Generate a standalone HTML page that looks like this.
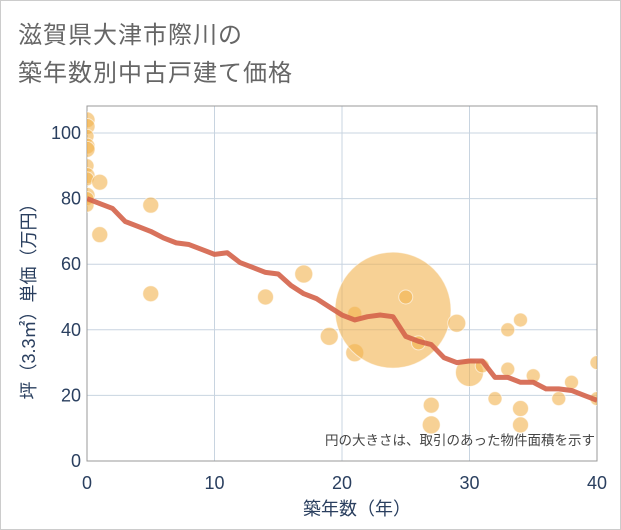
<!DOCTYPE html>
<html><head><meta charset="utf-8"><style>
body{margin:0;background:#fff}
#wrap{position:relative;width:619px;height:528px;border:1px solid #ccc;background:#fff;font-family:"Liberation Sans","Noto Sans CJK JP",sans-serif}
.title{position:absolute;left:17px;font-size:24px;color:#666;letter-spacing:1px}
</style></head><body>
<div id="wrap">
<div class="title" style="top:14px">滋賀県大津市際川の</div>
<div class="title" style="top:52px">築年数別中古戸建て価格</div>
<svg id="chart" width="619" height="528" style="position:absolute;left:0;top:0"></svg>
</div>
<script>
const lineYears=[0,1,2,3,4,5,6,7,8,9,10,11,12,13,14,15,16,17,18,19,20,21,22,23,24,25,26,27,28,29,30,31,32,33,34,35,36,37,38,39,40];
const lineValues=[80,78.5,77,73,71.5,70,68,66.5,66,64.5,63,63.5,60.5,59,57.5,57,53.5,51,49.5,47,44.5,43,44,44.5,44,38,36.5,35.5,31.5,30,30.5,30.5,25.5,25.5,24,24,22,22,21.5,20,18.5];
const bubbleYears=[0,0,0,0,0,0,0,0,0,0,0,1,1,5,5,14,17,19,21,21,24,25,26,27,27,29,30,31,32,33,33,34,34,34,35,37,38,40,40];
const bubbleValues=[104,102,99,96,95,90,87,86,81,80,78,85,69,78,51,50,57,38,45,33,46,50,36,17,11,42,27,29,19,40,28,43,16,11,26,19,24,30,19];
const bubbleSizes=[8,8,7,8,8,7,8,7,8,7,7,8,8,8,8,8,9,9,7,9,58,7,7,8,9,9,14,7,7,7,7,7,8,8,7,7,7,7,7];
const xTicks=[0,10,20,30,40];
const yTicks=[0,20,40,60,80,100];
const L=86,R=596,T=105,B=460;
const xs=v=>L+(v/40)*(R-L);
const ys=v=>B-(v/100)*328;
const svg=document.getElementById('chart');
const NS='http://www.w3.org/2000/svg';
function mk(t,a){const e=document.createElementNS(NS,t);for(const k in a)e.setAttribute(k,a[k]);svg.appendChild(e);return e;}
xTicks.forEach(t=>{
 const g=mk('line',{x1:xs(t),x2:xs(t),y1:T,y2:B,stroke:'#c8d4e0','stroke-width':1});
 
 
 const tx=mk('text',{x:xs(t),y:488,'text-anchor':'middle','font-size':18,fill:'#2a3f5f'});
 tx.textContent=t;
 
 
});
yTicks.forEach(t=>{
 const g=mk('line',{x1:L,x2:R,y1:ys(t),y2:ys(t),stroke:'#c8d4e0','stroke-width':1});
 
 
 const tx=mk('text',{x:80,y:ys(t)+6,'text-anchor':'end','font-size':18,fill:'#2a3f5f'});
 tx.textContent=t;
 
 
});
const fr=mk('rect',{x:L,y:T,width:R-L,height:B-T,fill:'none',stroke:'#999','stroke-width':1});


const cg=document.createElementNS(NS,'g');cg.setAttribute('clip-path','url(#clp)');svg.appendChild(cg);
const cp=mk('clipPath',{id:'clp'});const cr=document.createElementNS(NS,'rect');
cr.setAttribute('x',L);cr.setAttribute('y',T);cr.setAttribute('width',R-L);cr.setAttribute('height',B-T);cp.appendChild(cr);
bubbleYears.forEach((y,i)=>{
 const c=document.createElementNS(NS,'circle');
 c.setAttribute('cx',xs(y));c.setAttribute('cy',ys(bubbleValues[i]));c.setAttribute('r',bubbleSizes[i]);
 c.setAttribute('fill','#f2b24f');c.setAttribute('fill-opacity','0.6');c.setAttribute('stroke','#fff');c.setAttribute('stroke-opacity','0.6');
 
 
 cg.appendChild(c);
});
const pl=document.createElementNS(NS,'polyline');
pl.setAttribute('points',lineYears.map((y,i)=>xs(y)+','+ys(lineValues[i])).join(' '));
pl.setAttribute('fill','none');pl.setAttribute('stroke','#d4634a');pl.setAttribute('stroke-width','5');pl.setAttribute('stroke-opacity','0.9');pl.setAttribute('stroke-linejoin','round');


cg.appendChild(pl);
const note=mk('text',{x:594,y:444,'text-anchor':'end','font-size':13.5,fill:'#444'});
note.textContent='円の大きさは、取引のあった物件面積を示す';


const xt=mk('text',{x:356,y:514,'text-anchor':'middle','font-size':18,fill:'#2a3f5f'});
xt.textContent='築年数（年）';


const yt=mk('text',{x:0,y:0,'text-anchor':'middle','font-size':18,fill:'#2a3f5f',transform:'translate(34,296) rotate(-90)'});
yt.textContent='坪（3.3㎡）単価（万円）';


</script>
</body></html>
